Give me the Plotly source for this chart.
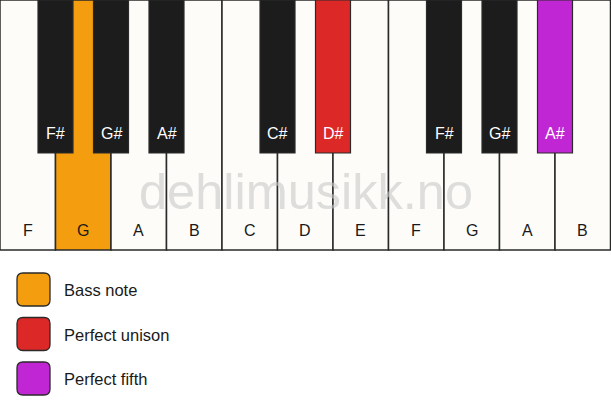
import plotly.graph_objects as go

# keyboard data
white_notes = ["F", "G", "A", "B", "C", "D", "E", "F", "G", "A", "B"]
black_notes = ["F#", "G#", "A#", "C#", "D#", "F#", "G#", "A#"]
black_slots = [1, 2, 3, 5, 6, 8, 9, 10]   # white-key boundary each black key sits on

# highlighted keys -> legend index
white_marks = {1: 0}
black_marks = {4: 1, 7: 2}

legend_labels = ["Bass note", "Perfect unison", "Perfect fifth"]
legend_colors = ["#F49E0F", "#DD2828", "#C026D3"]

KEY_W = 55.5
WHITE_H = 250
BLACK_W = 35
BLACK_H = 153
FONT = "Liberation Sans, Arial, sans-serif"

fig = go.Figure()
shapes = []
annotations = []

# white keys
for i, note in enumerate(white_notes):
    fill = legend_colors[white_marks[i]] if i in white_marks else "#FDFCF9"
    shapes.append(dict(type="rect", xref="x", yref="y",
                       x0=i * KEY_W, x1=(i + 1) * KEY_W, y0=0, y1=WHITE_H,
                       fillcolor=fill, line=dict(color="#2a2a2a", width=1.5)))
    annotations.append(dict(x=(i + 0.5) * KEY_W, y=230, text=note, showarrow=False,
                            xref="x", yref="y",
                            font=dict(family=FONT, size=16, color="#1a1a1a")))

# watermark
annotations.append(dict(x=306, y=191, text="dehlimusikk.no", showarrow=False,
                        xref="x", yref="y",
                        font=dict(family=FONT, size=50.5, color="rgba(200,200,200,0.6)")))

# black keys
for j, (note, slot) in enumerate(zip(black_notes, black_slots)):
    fill = legend_colors[black_marks[j]] if j in black_marks else "#1c1c1c"
    cx = slot * KEY_W
    shapes.append(dict(type="rect", xref="x", yref="y",
                       x0=cx - BLACK_W / 2, x1=cx + BLACK_W / 2, y0=0, y1=BLACK_H,
                       fillcolor=fill, line=dict(color="#2a2a2a", width=1.2)))
    annotations.append(dict(x=cx, y=133, text=note, showarrow=False,
                            xref="x", yref="y",
                            font=dict(family=FONT, size=16, color="white")))

# legend swatches (rounded squares)
def rounded(x0, y0, s, r):
    return (f"M {x0+r},{y0} L {x0+s-r},{y0} Q {x0+s},{y0} {x0+s},{y0+r} "
            f"L {x0+s},{y0+s-r} Q {x0+s},{y0+s} {x0+s-r},{y0+s} "
            f"L {x0+r},{y0+s} Q {x0},{y0+s} {x0},{y0+s-r} "
            f"L {x0},{y0+r} Q {x0},{y0} {x0+r},{y0} Z")

for k, (label, color) in enumerate(zip(legend_labels, legend_colors)):
    top = 273 + k * 44.5
    shapes.append(dict(type="path", xref="x", yref="y", path=rounded(17, top, 33, 6),
                       fillcolor=color, line=dict(color="#2a2a2a", width=1.3)))
    annotations.append(dict(x=62, y=top + 17, text=label, showarrow=False,
                            xref="x", yref="y", xanchor="left",
                            font=dict(family=FONT, size=16.5, color="#1a1a1a")))

fig.update_layout(
    width=611, height=417,
    margin=dict(l=0, r=0, t=0, b=0),
    paper_bgcolor="white", plot_bgcolor="white",
    xaxis=dict(range=[0, 611], visible=False, fixedrange=True),
    yaxis=dict(range=[417, 0], visible=False, fixedrange=True),
    shapes=shapes, annotations=annotations, showlegend=False,
)

fig.write_html("out.html", config={"displayModeBar": False},
               post_script="document.body.style.margin='0';")
